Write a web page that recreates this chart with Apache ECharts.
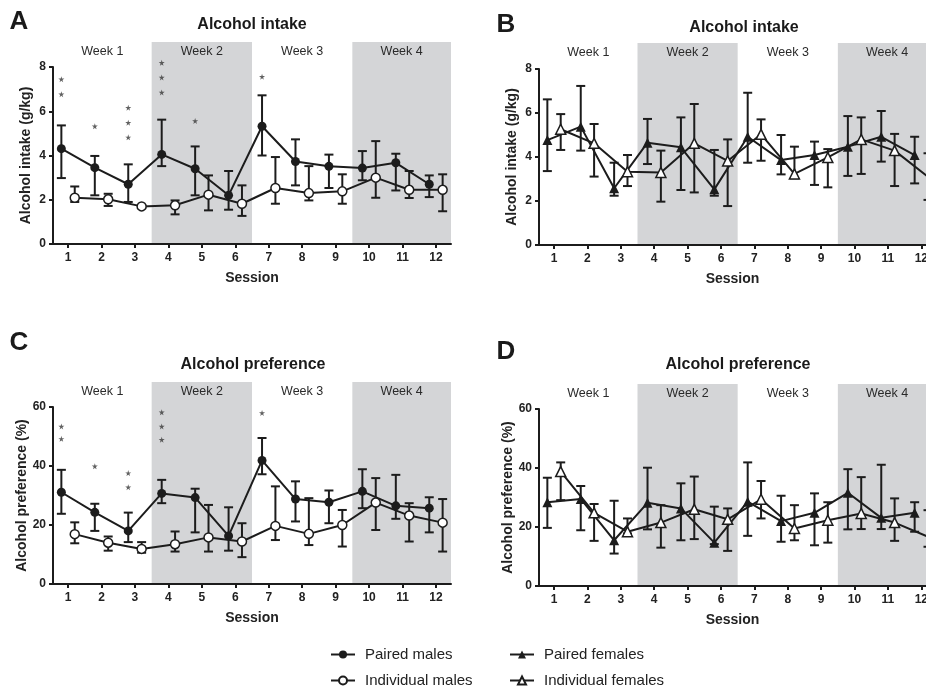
<!DOCTYPE html>
<html><head><meta charset="utf-8">
<script src="https://cdn.jsdelivr.net/npm/echarts@6/dist/echarts.min.js"></script>
<style>html,body{margin:0;padding:0;background:#fff}#c{width:926px;height:687px}</style>
</head><body><div id="c"></div>
<script>
// ---------- DATA ----------
const sessions = [1,2,3,4,5,6,7,8,9,10,11,12];
const weekLabels = ['Week 1','Week 2','Week 3','Week 4'];
const weekSessions = [[1,3],[4,6],[7,9],[10,12]];
const weekShaded = [0,1,0,1];

// Panel A – alcohol intake (g/kg), males
const aPairedMales   = [4.31,3.45,2.70,4.05,3.40,2.20,5.32,3.73,3.51,3.43,3.67,2.70];
const aPairedMalesHi = [5.36,3.98,3.60,5.62,4.41,3.30,6.72,4.73,4.04,4.20,4.08,3.10];
const aPairedMalesLo = [2.98,2.20,1.90,3.52,2.20,1.55,4.00,2.65,2.53,2.88,2.42,2.12];
const aIndivMales    = [2.09,2.02,1.70,1.75,2.23,1.82,2.53,2.30,2.38,3.00,2.45,2.45];
const aIndivMalesHi  = [2.60,2.27,1.74,1.97,3.10,2.65,3.93,3.52,3.15,4.65,3.30,3.15];
const aIndivMalesLo  = [1.90,1.72,1.66,1.34,1.52,1.27,1.82,1.97,1.82,2.09,2.08,1.48];
const aStars = [[1,7.45],[1,6.77],[2,5.32],[3,6.16],[3,5.48],[3,4.82],[4,8.19],[4,7.53],[4,6.85],[5,5.56],[7,7.56]];

// Panel B – alcohol intake (g/kg), females
const bPairedFemales   = [4.77,5.38,2.58,4.65,4.44,2.53,4.92,3.86,4.09,4.47,4.92,4.09];
const bPairedFemalesHi = [6.62,7.23,3.74,5.73,5.80,4.32,6.92,5.00,4.70,5.86,6.09,4.92];
const bPairedFemalesLo = [3.36,4.29,2.24,3.68,2.50,2.24,3.74,3.21,2.73,3.14,3.79,2.80];
const bIndivFemales    = [5.26,4.62,3.33,3.30,4.62,3.82,5.03,3.23,3.98,4.80,4.29,3.10];
const bIndivFemalesHi  = [5.95,5.50,4.09,4.29,6.41,4.80,5.71,4.47,4.36,5.80,5.05,4.17];
const bIndivFemalesLo  = [4.32,3.11,2.68,1.97,2.39,1.77,3.83,3.03,2.62,3.23,2.68,2.05];
const bStars = [];

// Panel C – alcohol preference (%), males
const cPairedMales   = [31.1,24.3,18.0,30.7,29.3,16.3,41.9,28.8,27.7,31.4,26.5,25.7];
const cPairedMalesHi = [38.7,27.2,24.2,35.3,32.3,26.0,49.5,34.8,31.7,38.9,37.0,29.4];
const cPairedMalesLo = [23.8,18.0,14.2,27.4,17.5,11.3,37.2,21.2,20.6,25.7,22.1,17.5];
const cIndivMales    = [16.9,14.0,11.9,13.5,15.8,14.4,19.7,17.0,20.0,27.6,23.2,20.8];
const cIndivMalesHi  = [20.9,16.1,14.2,17.8,26.8,20.6,33.1,29.1,25.1,35.9,27.4,28.8];
const cIndivMalesLo  = [13.8,11.3,10.6,11.0,11.0,9.1,14.9,13.2,12.7,18.3,14.4,11.0];
const cStars = [[1,53.4],[1,49.2],[2,39.9],[3,37.6],[3,32.8],[4,58.2],[4,53.4],[4,48.9],[7,58.0]];

// Panel D – alcohol preference (%), females
const dPairedFemales   = [28.4,29.5,15.5,28.2,26.3,14.7,28.6,22.0,24.8,31.6,23.1,24.8];
const dPairedFemalesHi = [36.7,33.9,28.9,40.1,34.8,26.9,41.9,30.6,31.4,39.6,41.1,28.4];
const dPairedFemalesLo = [19.7,18.9,11.0,19.2,15.5,14.2,17.0,15.0,13.8,19.2,19.3,18.4];
const dIndivFemales    = [38.8,24.8,18.4,21.5,26.0,22.6,29.4,19.5,22.3,24.6,21.5,16.7];
const dIndivFemalesHi  = [41.9,27.8,22.9,27.4,37.1,26.3,35.6,27.4,28.4,36.9,29.7,25.7];
const dIndivFemalesLo  = [29.1,15.3,17.8,13.0,15.9,11.9,22.9,15.5,14.7,19.3,15.3,13.3];
const dStars = [];

const intakeTicks = [0,2,4,6,8];
const prefTicks = [0,20,40,60];

// ---------- BUILD ----------
const FONT = '"Liberation Sans", Arial, sans-serif';
const INK = '#1c1c1c';
const XMIN = 0.55, OFF = 0.2;
const STAR = 'path://M50,0 L61,35 L98,35 L68,57 L79,91 L50,70 L21,91 L32,57 L2,35 L39,35 Z';

const panels = [
  {letter:'A', title:'Alcohol intake', yName:'Alcohol intake (g/kg)', ticks:intakeTicks, xmax:12.45,
   grid:{left:53, top:67, right:475, height:177}, bandTop:42, titleX:252, titleY:25, letterX:19, letterY:22,
   groups:[
     {name:'Paired males', m:aPairedMales, hi:aPairedMalesHi, lo:aPairedMalesLo, sym:'circle', fill:INK, off:-OFF},
     {name:'Individual males', m:aIndivMales, hi:aIndivMalesHi, lo:aIndivMalesLo, sym:'circle', fill:'#fff', off:OFF}],
   stars:aStars},
  {letter:'B', title:'Alcohol intake', yName:'Alcohol intake (g/kg)', ticks:intakeTicks, xmax:12.14,
   grid:{left:539, top:69, right:0, height:176}, bandTop:43, titleX:744, titleY:28, letterX:506, letterY:25,
   groups:[
     {name:'Paired females', m:bPairedFemales, hi:bPairedFemalesHi, lo:bPairedFemalesLo, sym:'triangle', fill:INK, off:-OFF},
     {name:'Individual females', m:bIndivFemales, hi:bIndivFemalesHi, lo:bIndivFemalesLo, sym:'triangle', fill:'#fff', off:OFF}],
   stars:bStars},
  {letter:'C', title:'Alcohol preference', yName:'Alcohol preference (%)', ticks:prefTicks, xmax:12.45,
   grid:{left:53, top:407, right:475, height:177}, bandTop:382, titleX:253, titleY:365, letterX:19, letterY:343,
   groups:[
     {name:'Paired males', m:cPairedMales, hi:cPairedMalesHi, lo:cPairedMalesLo, sym:'circle', fill:INK, off:-OFF},
     {name:'Individual males', m:cIndivMales, hi:cIndivMalesHi, lo:cIndivMalesLo, sym:'circle', fill:'#fff', off:OFF}],
   stars:cStars},
  {letter:'D', title:'Alcohol preference', yName:'Alcohol preference (%)', ticks:prefTicks, xmax:12.14,
   grid:{left:539, top:409, right:0, height:177}, bandTop:384, titleX:738, titleY:365, letterX:506, letterY:352,
   groups:[
     {name:'Paired females', m:dPairedFemales, hi:dPairedFemalesHi, lo:dPairedFemalesLo, sym:'triangle', fill:INK, off:-OFF},
     {name:'Individual females', m:dIndivFemales, hi:dIndivFemalesHi, lo:dIndivFemalesLo, sym:'triangle', fill:'#fff', off:OFF}],
   stars:dStars}
];

function errRender(params, api){
  const x = api.value(0), lo = api.value(1), hi = api.value(2);
  const a = api.coord([x, lo]), b = api.coord([x, hi]);
  const cw = 4.5, st = {stroke: INK, lineWidth: 2};
  return {type:'group', children:[
    {type:'line', shape:{x1:a[0], y1:a[1], x2:b[0], y2:b[1]}, style:st},
    {type:'line', shape:{x1:b[0]-cw, y1:b[1], x2:b[0]+cw, y2:b[1]}, style:st},
    {type:'line', shape:{x1:a[0]-cw, y1:a[1], x2:a[0]+cw, y2:a[1]}, style:st}
  ]};
}
function bandRender(params, api){
  const x0 = api.value(0), x1 = api.value(1), sh = api.value(2), lx = api.value(3);
  const p0 = api.coord([x0, 1]), p1 = api.coord([x1, 0]), pl = api.coord([lx, 1]);
  return {type:'group', children:[
    {type:'rect', shape:{x:p0[0], y:p0[1], width:p1[0]-p0[0], height:p1[1]-p0[1]},
     style:{fill: sh ? '#d4d5d7' : 'rgba(255,255,255,0)'}},
    {type:'text', x:pl[0], y:p0[1]+10,
     style:{text: weekLabels[params.dataIndex], align:'center', verticalAlign:'middle',
            font:'12.5px ' + FONT, fill:'#2a2a2a'}}
  ]};
}

const grids = [], xAxes = [], yAxes = [], series = [], graphics = [];

panels.forEach((p, k) => {
  const gi = grids.length;
  const ymax = p.ticks[p.ticks.length-1];
  const yint = p.ticks[1] - p.ticks[0];
  // band grid (the week label is centred on the full week span, as in the original figure)
  const bandData = weekSessions.map((w,i) => {
    const a = Math.max(XMIN, w[0]-0.5), b = Math.min(p.xmax, w[1]+0.5);
    const la = Math.max(XMIN, w[0]-0.5), lb = Math.min(12.45, w[1]+0.5);
    return [a, b, weekShaded[i], (la+lb)/2];
  });
  grids.push({left:p.grid.left, right:p.grid.right, top:p.bandTop, height:p.grid.top + p.grid.height - p.bandTop,
              outerBoundsMode:'none'});
  xAxes.push({gridIndex:gi, type:'value', min:XMIN, max:p.xmax, show:false});
  yAxes.push({gridIndex:gi, type:'value', min:0, max:1, show:false});
  series.push({type:'custom', xAxisIndex:gi, yAxisIndex:gi, renderItem:bandRender, data:bandData, silent:true, z:0,
               encode:{x:[0,1], y:2}});
  // main grid
  const mi = gi + 1;
  grids.push(Object.assign({outerBoundsMode:'none'}, p.grid));
  xAxes.push({gridIndex:mi, type:'value', min:XMIN, max:p.xmax, z:5,
    axisLine:{show:true, lineStyle:{color:INK, width:2}},
    axisTick:{show:true, customValues:sessions, length:4, lineStyle:{color:INK, width:2}},
    axisLabel:{customValues:sessions, margin:8, fontSize:12, fontWeight:'bold', color:'#222', fontFamily:FONT},
    splitLine:{show:false},
    name:'Session', nameLocation:'middle', nameGap:27,
    nameTextStyle:{fontSize:14, fontWeight:'bold', color:'#222', fontFamily:FONT}});
  yAxes.push({gridIndex:mi, type:'value', min:0, max:ymax, interval:yint, z:5,
    axisLine:{show:true, lineStyle:{color:INK, width:2}},
    axisTick:{show:true, length:4, lineStyle:{color:INK, width:2}},
    axisLabel:{margin:7, fontSize:12, fontWeight:'bold', color:'#222', fontFamily:FONT},
    splitLine:{show:false},
    name:p.yName, nameLocation:'middle', nameGap:20,
    nameTextStyle:{fontSize:14, fontWeight:'bold', color:'#222', fontFamily:FONT}});
  p.groups.forEach(g => {
    series.push({type:'custom', xAxisIndex:mi, yAxisIndex:mi, renderItem:errRender, silent:true, z:3,
      encode:{x:0, y:[1,2]},
      data: sessions.map((s,i) => [s + g.off, g.lo[i], g.hi[i]])});
  });
  p.groups.forEach((g, j) => {
    series.push({type:'line', name:g.name, xAxisIndex:mi, yAxisIndex:mi, z:4 + j,
      data: sessions.map((s,i) => [s + g.off, g.m[i]]),
      symbol:g.sym, symbolSize: g.sym === 'circle' ? 9 : 10, showSymbol:true,
      lineStyle:{color:INK, width:2},
      itemStyle:{color:g.fill, borderColor:INK, borderWidth: g.fill === '#fff' ? 1.5 : 0}});
  });
  if (p.stars.length) {
    series.push({type:'scatter', xAxisIndex:mi, yAxisIndex:mi, symbol:STAR, symbolSize:6, silent:true, z:6, clip:false,
      data: p.stars.map(s => [s[0] - OFF, s[1]]),
      itemStyle:{color:'#3a3a3a'}});
  }
  graphics.push({type:'text', x:p.titleX, y:p.titleY,
    style:{text:p.title, align:'center', verticalAlign:'middle', font:'bold 16px ' + FONT, fill:'#1a1a1a'}});
  graphics.push({type:'text', x:p.letterX, y:p.letterY,
    style:{text:p.letter, align:'center', verticalAlign:'middle', font:'bold 26px ' + FONT, fill:'#1a1a1a'}});
});

const legendBase = {orient:'horizontal', itemWidth:24, itemHeight:10, padding:0, selectedMode:false,
  textStyle:{fontSize:15, color:'#222', fontFamily:FONT, padding:[0,0,0,5]}};
const legendItems = [
  {name:'Paired males', left:330, top:647},
  {name:'Individual males', left:330, top:673},
  {name:'Paired females', left:509, top:647},
  {name:'Individual females', left:509, top:673}
];

const chart = echarts.init(document.getElementById('c'), null, {renderer:'canvas'});
chart.setOption({
  animation:false,
  backgroundColor:'#fff',
  grid:grids, xAxis:xAxes, yAxis:yAxes, series:series, graphic:graphics,
  legend: legendItems.map(it => Object.assign({}, legendBase, {left:it.left, top:it.top, data:[it.name]}))
});
</script>
</body></html>
